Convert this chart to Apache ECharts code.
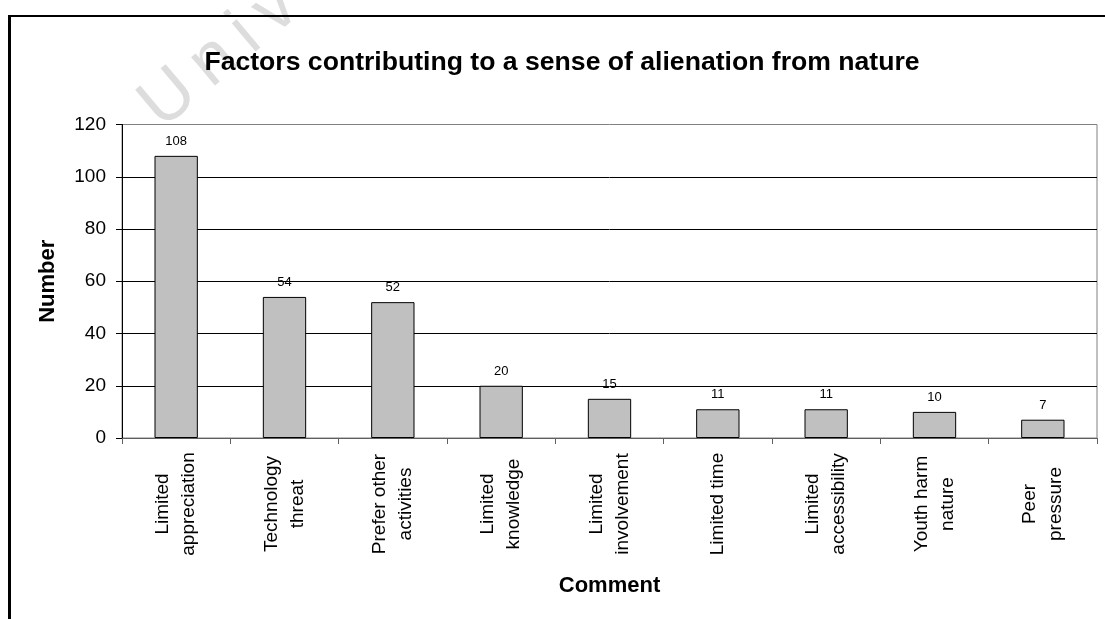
<!DOCTYPE html>
<html>
<head>
<meta charset="utf-8">
<script src="https://cdn.jsdelivr.net/npm/echarts@6/dist/echarts.min.js"></script>
<style>
  html, body { margin: 0; padding: 0; background: #ffffff; }
  #chart { width: 1105px; height: 619px; }
</style>
</head>
<body>
<div id="chart"></div>
<script>
// Survey comments on why young people feel alienated from nature
const categories = [
  'Limited\nappreciation',
  'Technology\nthreat',
  'Prefer other\nactivities',
  'Limited\nknowledge',
  'Limited\ninvolvement',
  'Limited time',
  'Limited\naccessibility',
  'Youth harm\nnature',
  'Peer\npressure'
];
const counts = [108, 54, 52, 20, 15, 11, 11, 10, 7];
const yTicks = [0, 20, 40, 60, 80, 100, 120];

const FONT = 'Liberation Sans, Arial, sans-serif';

// page watermark, letter-spaced with thin spaces
const watermark = 'University of Cape Town'.split('').join('\u2009');

const chart = echarts.init(document.getElementById('chart'), null, { renderer: 'canvas' });

chart.setOption({
  backgroundColor: '#ffffff',
  animation: false,
  title: {
    text: 'Factors contributing to a sense of alienation from nature',
    left: 557,
    textAlign: 'center',
    top: 44,
    z: 10,
    textStyle: { fontFamily: FONT, fontSize: 26.6, fontWeight: 'bold', color: '#000' }
  },
  grid: {
    left: 122, right: 8, top: 124.5, bottom: 181,
    show: true, borderColor: '#808080', borderWidth: 1, backgroundColor: 'transparent'
  },
  xAxis: {
    type: 'category',
    data: categories,
    name: 'Comment',
    nameLocation: 'middle',
    nameGap: 137,
    nameTextStyle: { fontFamily: FONT, fontSize: 22, fontWeight: 'bold', color: '#000' },
    axisLine: { lineStyle: { color: '#606060', width: 1 } },
    axisTick: { show: true, alignWithLabel: false, length: 6, lineStyle: { color: '#606060' } },
    axisLabel: {
      interval: 0,
      rotate: 90,
      align: 'center',
      verticalAlign: 'middle',
      margin: 66,
      lineHeight: 26,
      fontFamily: FONT,
      fontSize: 19,
      color: '#000'
    },
    splitLine: { show: false }
  },
  yAxis: {
    type: 'value',
    min: yTicks[0],
    max: yTicks[yTicks.length - 1],
    interval: 20,
    name: 'Number',
    nameLocation: 'middle',
    nameRotate: 90,
    nameGap: 63,
    nameTextStyle: { fontFamily: FONT, fontSize: 22, fontWeight: 'bold', color: '#000' },
    axisLine: { show: true, lineStyle: { color: '#000', width: 1 } },
    axisTick: { show: true, inside: false, length: 6, lineStyle: { color: '#000' } },
    axisLabel: { margin: 16, fontFamily: FONT, fontSize: 19, color: '#000' },
    splitLine: { show: true, showMaxLine: false, lineStyle: { color: '#000', width: 1 } }
  },
  series: [{
    type: 'bar',
    data: counts,
    barWidth: '40%',
    itemStyle: { color: '#c0c0c0', borderColor: '#000', borderWidth: 1 },
    label: {
      show: true,
      position: 'top',
      distance: 8,
      fontFamily: FONT,
      fontSize: 13,
      color: '#000'
    }
  }],
  graphic: [
    {
      type: 'text',
      x: 172, y: 142,
      rotation: 40 * Math.PI / 180,
      z: 1,
      silent: true,
      style: {
        text: watermark,
        font: '70px Liberation Sans, Arial, sans-serif',
        fill: '#dddddd',
        textVerticalAlign: 'bottom'
      }
    },
    // outer chart frame (left and top edges)
    { type: 'rect', shape: { x: 8, y: 15, width: 3, height: 620 }, style: { fill: '#000' }, z: 101 },
    { type: 'rect', shape: { x: 8, y: 15, width: 1110, height: 2 }, style: { fill: '#000' }, z: 101 }
  ]
});
</script>
</body>
</html>
